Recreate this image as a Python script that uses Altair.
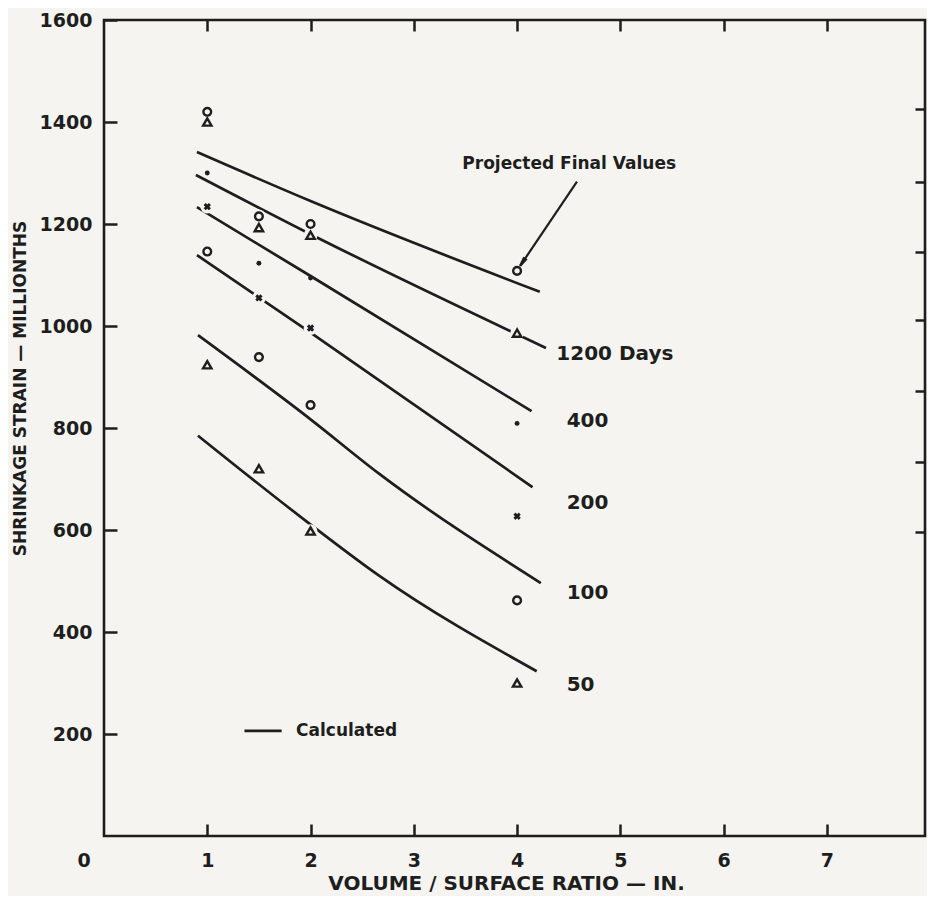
import math
import altair as alt
import pandas as pd

# ---------------- data ----------------
vs_ratio = [1, 1.5, 2, 4]

obs_final = [1420, 1215, 1200, 1108]
obs_1200 = [1400, 1193, 1178, 986]
obs_400 = [1300, 1123, 1094, 809]
obs_200 = [1234, 1055, 996, 627]
obs_100 = [1146, 939, 845, 462]
obs_50 = [924, 720, 598, 300]

calc_final_x = [0.90, 2.00, 4.22]
calc_final_y = [1341, 1245, 1067]
calc_1200_x = [0.89, 2.00, 4.28]
calc_1200_y = [1296, 1180, 957]
calc_400_x = [0.90, 2.00, 4.14]
calc_400_y = [1233, 1098, 833]
calc_200_x = [0.90, 2.00, 4.15]
calc_200_y = [1139, 987, 684]
calc_100_x = [0.91, 2.00, 2.66, 4.23]
calc_100_y = [982, 817, 711, 496]
calc_50_x = [0.91, 1.96, 2.66, 4.19]
calc_50_y = [785, 617, 511, 323]

x_ticks = [1, 2, 3, 4, 5, 6, 7]
y_ticks = [200, 400, 600, 800, 1000, 1200, 1400, 1600]
right_ticks = [1426, 1283, 1146, 1011, 872, 734, 597]

curve_labels = ["1200  Days", "400", "200", "100", "50"]
curve_label_x = [4.38, 4.48, 4.48, 4.48, 4.48]
curve_label_y = [946, 813, 652, 476, 296]

note_text = ["Projected  Final  Values"]
note_x = [3.47]
note_y = [1318]

arrow_x = [4.58, 4.03]
arrow_y = [1283, 1118]

legend_line_x = [1.36, 1.72]
legend_y = [206]
legend_text = ["Calculated"]
legend_text_x = [1.86]

# ---------------- styling ----------------
INK = "#1e1e1e"
BG = "#f5f4f0"
FONT = "DejaVu Sans"
W, H = 821, 816
X_MAX = 7.95

xs = alt.Scale(domain=[0, X_MAX], nice=False, zero=False)
ys = alt.Scale(domain=[0, 1600], nice=False, zero=False)

# ---------------- tables ----------------
obs_sets = [
    ("final", obs_final, "circle"),
    ("1200", obs_1200, "triangle"),
    ("400", obs_400, "dot"),
    ("200", obs_200, "cross"),
    ("100", obs_100, "circle"),
    ("50", obs_50, "triangle"),
]
obs_rows = []
for name, vals, kind in obs_sets:
    for xv, yv in zip(vs_ratio, vals):
        obs_rows.append({"x": xv, "y": yv, "series": name, "kind": kind})
obs_df = pd.DataFrame(obs_rows)

calc_sets = [
    ("final", calc_final_x, calc_final_y),
    ("1200", calc_1200_x, calc_1200_y),
    ("400", calc_400_x, calc_400_y),
    ("200", calc_200_x, calc_200_y),
    ("100", calc_100_x, calc_100_y),
    ("50", calc_50_x, calc_50_y),
]
calc_rows = []
for name, cx, cy in calc_sets:
    for i, (xv, yv) in enumerate(zip(cx, cy)):
        calc_rows.append({"x": xv, "y": yv, "series": name, "order": i})
calc_df = pd.DataFrame(calc_rows)

# ---------------- layers ----------------
lines = alt.Chart(calc_df).mark_line(
    color=INK, strokeWidth=2.7, interpolate="monotone"
).encode(
    x=alt.X("x:Q", scale=xs, axis=alt.Axis(
        orient="bottom", values=x_ticks, format="d", title="VOLUME / SURFACE  RATIO  —  IN.",
        domain=False, grid=False, tickSize=12, offset=-12, tickWidth=2.5, tickColor=INK,
        labelFont=FONT, labelFontSize=19, labelFontWeight="bold", labelColor=INK,
        labelPadding=15, titleFont=FONT, titleFontSize=20, titleFontWeight="bold",
        titleColor=INK, titleX=402, titleY=59, titleBaseline="middle", titleAlign="center",
    )),
    y=alt.Y("y:Q", scale=ys, axis=alt.Axis(
        orient="left", values=y_ticks, format="d", title="SHRINKAGE  STRAIN  —  MILLIONTHS",
        domain=False, grid=False, tickSize=13, offset=-13, tickWidth=2.5, tickColor=INK,
        labelFont=FONT, labelFontSize=19, labelFontWeight="bold", labelColor=INK,
        labelPadding=12, titleFont=FONT, titleFontSize=17, titleFontWeight="bold",
        titleColor=INK, titleX=-97, titleY=368, titleBaseline="middle", titleAlign="center",
        titleAngle=270,
    )),
    detail="series:N",
    order="order:Q",
)

frame = alt.Chart(obs_df).mark_point(opacity=0).encode(
    x=alt.X("x:Q", scale=xs, axis=alt.Axis(
        orient="top", values=x_ticks, labels=False, title=None, domain=False, grid=False,
        tickSize=11, offset=-11, tickWidth=2.5, tickColor=INK)),
    y=alt.Y("y:Q", scale=ys, axis=alt.Axis(
        orient="right", values=right_ticks, labels=False, title=None, domain=False, grid=False,
        tickSize=10, offset=-10, tickWidth=2.5, tickColor=INK)),
)

base_obs = alt.Chart(obs_df)
enc = dict(x=alt.X("x:Q", scale=xs, axis=None), y=alt.Y("y:Q", scale=ys, axis=None))

halo = base_obs.transform_filter("datum.kind != 'dot'").mark_point(
    shape="circle", filled=True, color=BG, size=190, opacity=1, strokeWidth=0
).encode(**enc)

circles = base_obs.transform_filter("datum.kind == 'circle'").mark_point(
    shape="circle", filled=False, color=INK, size=60, strokeWidth=2.4, opacity=1
).encode(**enc)

triangles = base_obs.transform_filter("datum.kind == 'triangle'").mark_point(
    shape="triangle-up", filled=False, color=INK, size=70, strokeWidth=2.4, opacity=1
).encode(**enc)

dots = base_obs.transform_filter("datum.kind == 'dot'").mark_point(
    shape="circle", filled=True, color=INK, size=24, opacity=1
).encode(**enc)

crosses = base_obs.transform_filter("datum.kind == 'cross'").mark_point(
    shape="cross", filled=True, color=INK, size=55, angle=45, opacity=1
).encode(**enc)

# curve labels
clab_df = pd.DataFrame({"x": curve_label_x, "y": curve_label_y, "t": curve_labels})
clabels = alt.Chart(clab_df).mark_text(
    align="left", baseline="middle", font=FONT, fontSize=20, fontWeight="bold", color=INK
).encode(text="t:N", **enc)

note_df = pd.DataFrame({"x": note_x, "y": note_y, "t": note_text})
note = alt.Chart(note_df).mark_text(
    align="left", baseline="middle", font=FONT, fontSize=17, fontWeight="bold", color=INK
).encode(text="t:N", **enc)

# arrow
arr_df = pd.DataFrame({"x": arrow_x, "y": arrow_y, "o": [0, 1]})
arrow_line = alt.Chart(arr_df).mark_line(color=INK, strokeWidth=2.2).encode(order="o:Q", **enc)
dx_px = (arrow_x[1] - arrow_x[0]) * W / X_MAX
dy_px = -(arrow_y[1] - arrow_y[0]) * H / 1600
ang = math.degrees(math.atan2(dx_px, -dy_px)) % 360
head_df = pd.DataFrame({"x": [arrow_x[1]], "y": [arrow_y[1]]})
arrow_head = alt.Chart(head_df).mark_point(
    shape="M-0.32,2L0,0L0.32,2", filled=False, color=INK, strokeWidth=2.2, size=90,
    angle=ang, opacity=1
).encode(**enc)

# legend
leg_df = pd.DataFrame({"x": [legend_line_x[0]], "x2": [legend_line_x[1]], "y": legend_y})
leg_line = alt.Chart(leg_df).mark_rule(color=INK, strokeWidth=2.7).encode(
    x=alt.X("x:Q", scale=xs, axis=None), x2="x2:Q", y=alt.Y("y:Q", scale=ys, axis=None)
)
legt_df = pd.DataFrame({"x": legend_text_x, "y": legend_y, "t": legend_text})
leg_text = alt.Chart(legt_df).mark_text(
    align="left", baseline="middle", font=FONT, fontSize=17, fontWeight="bold", color=INK
).encode(text="t:N", **enc)

# origin label "0"
zero_df = pd.DataFrame({"x": [0], "y": [0], "t": ["0"]})
zero_lab = alt.Chart(zero_df).mark_text(
    align="center", baseline="middle", font=FONT, fontSize=19, fontWeight="bold", color=INK,
    dx=-20, dy=25
).encode(text="t:N", **enc)

chart = alt.layer(
    lines, frame, halo, circles, triangles, dots, crosses,
    clabels, note, arrow_line, arrow_head, leg_line, leg_text, zero_lab
).resolve_axis(x="independent", y="independent").properties(
    width=W, height=H,
    autosize=alt.AutoSizeParams(type="none"),
    padding={"left": 96, "top": 12, "right": 2, "bottom": 60},
    background=BG,
).configure_view(stroke=INK, strokeWidth=2.6)

chart.save("out.html", embed_options={"renderer": "svg", "actions": False})
